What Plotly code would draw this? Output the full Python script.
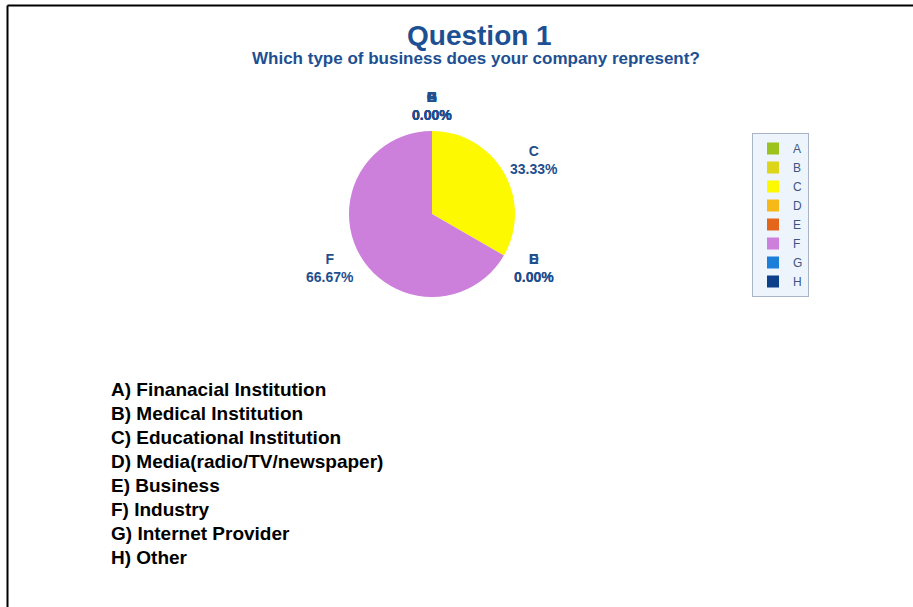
import math
import plotly.graph_objects as go

# Survey answers for question 1
letters = ["A", "B", "C", "D", "E", "F", "G", "H"]
descriptions = [
    "Finanacial Institution",
    "Medical Institution",
    "Educational Institution",
    "Media(radio/TV/newspaper)",
    "Business",
    "Industry",
    "Internet Provider",
    "Other",
]
responses = [0, 0, 1, 0, 0, 2, 0, 0]
slice_colors = ["#9cc31c", "#dcd51a", "#fdf900", "#f6b917", "#e4661b",
                "#cd7fdc", "#1b7fda", "#0d3f8a"]

W, H = 913, 607
CX, CY, R = 432, 214, 83          # pie centre and radius, px
LABEL_RX, LABEL_RY = 118, 108     # label ring, px
BLUE = "#1f4f8f"
FONT = "Liberation Sans, Arial"

fig = go.Figure()
fig.add_trace(go.Pie(
    labels=letters,
    values=responses,
    marker=dict(colors=slice_colors, line=dict(width=0)),
    sort=False,
    direction="clockwise",
    rotation=0,
    textinfo="none",
    hoverinfo="label+percent",
    domain=dict(x=[(CX - R) / W, (CX + R) / W],
                y=[1 - (CY + R) / H, 1 - (CY - R) / H]),
))

# Slice labels around the pie, placed at each slice's mid angle
total = sum(responses)
cum = 0.0
annotations = []
for lab, v in zip(letters, responses):
    frac = v / total
    mid = (cum + frac / 2) * 2 * math.pi
    cum += frac
    px = CX + LABEL_RX * math.sin(mid)
    py = CY - LABEL_RY * math.cos(mid)
    annotations.append(dict(
        x=px / W, y=1 - py / H, xref="paper", yref="paper",
        text=f"<b>{lab}<br>{frac * 100:.2f}%</b>", showarrow=False,
        xanchor="center", yanchor="middle", align="center",
        font=dict(family=FONT, size=14, color=BLUE),
    ))

# Titles
annotations.append(dict(
    x=479 / W, y=1 - 36 / H, xref="paper", yref="paper", showarrow=False,
    text="<b>Question 1</b>", xanchor="center", yanchor="middle",
    font=dict(family=FONT, size=28, color="#1d5092"),
))
annotations.append(dict(
    x=476 / W, y=1 - 58 / H, xref="paper", yref="paper", showarrow=False,
    text="<b>Which type of business does your company represent?</b>",
    xanchor="center", yanchor="middle",
    font=dict(family=FONT, size=17, color="#1d5092"),
))

# Answer key below the chart
for i, (lab, desc) in enumerate(zip(letters, descriptions)):
    py = 389 + 24 * i
    annotations.append(dict(
        x=109 / W, y=1 - py / H, xref="paper", yref="paper", showarrow=False,
        text=f"<b>{lab}) {desc}</b>", xanchor="left", yanchor="middle",
        font=dict(family=FONT, size=19, color="#000000"),
    ))

fig.update_layout(
    width=W, height=H,
    margin=dict(l=0, r=0, t=0, b=0),
    paper_bgcolor="white",
    plot_bgcolor="white",
    annotations=annotations,
    showlegend=True,
    legend=dict(
        x=752 / W, y=1 - 133 / H, xanchor="left", yanchor="top",
        bgcolor="#eef4fb", bordercolor="#a9b5c6", borderwidth=1,
        font=dict(family=FONT, size=12, color="#3b5684"),
        traceorder="normal",
    ),
    shapes=[
        dict(type="line", xref="paper", yref="paper",
             x0=7.5 / W, x1=1, y0=1 - 5.5 / H, y1=1 - 5.5 / H,
             line=dict(color="black", width=2)),
        dict(type="line", xref="paper", yref="paper",
             x0=7.5 / W, x1=7.5 / W, y0=1 - 5.5 / H, y1=0,
             line=dict(color="black", width=2)),
    ],
)

fig.write_html("out.html")
